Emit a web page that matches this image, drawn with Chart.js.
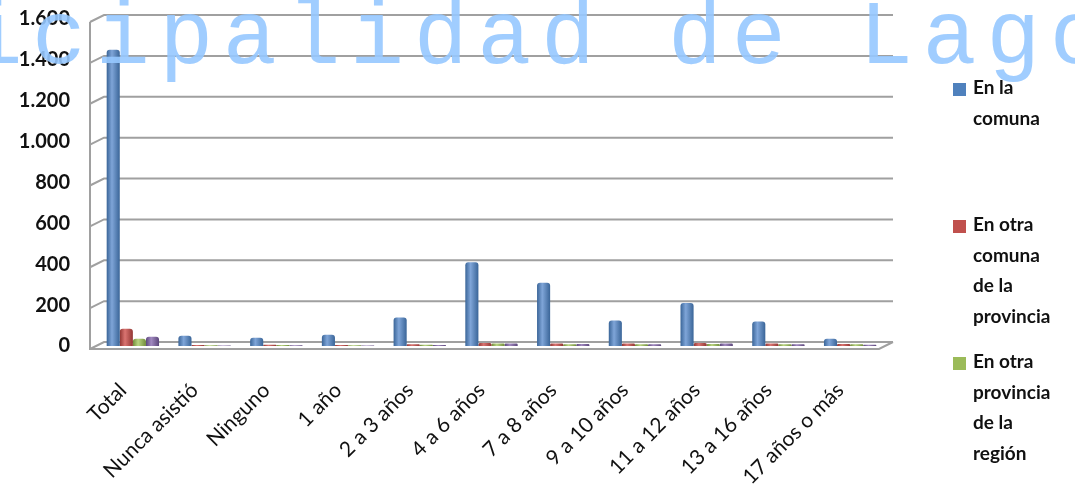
<!DOCTYPE html>
<html>
<head>
<meta charset="utf-8">
<script src="https://cdn.jsdelivr.net/npm/chart.js@4/dist/chart.umd.min.js"></script>
<style>
  html, body { margin: 0; padding: 0; background: #fff; }
  #wrap { width: 1075px; height: 498px; }
</style>
</head>
<body>
<div id="wrap"><canvas id="chart" width="1075" height="498"></canvas></div>
<script>
const categories = ['Total', 'Nunca asistió', 'Ninguno', '1 año', '2 a 3 años', '4 a 6 años',
  '7 a 8 años', '9 a 10 años', '11 a 12 años', '13 a 16 años', '17 años o más'];

const enLaComuna      = [1450, 50, 40, 55, 140, 410, 310, 125, 210, 120, 35];
const otraComuna      = [85, 5, 6, 5, 8, 15, 12, 12, 15, 12, 10];
const otraProvincia   = [35, 4, 5, 4, 6, 12, 8, 8, 10, 8, 8];
const otraRegion      = [45, 3, 4, 3, 5, 12, 10, 8, 12, 9, 6];

const seriesNames = ['En la comuna', 'En otra comuna de la provincia', 'En otra provincia de la región', 'En otra región'];
const legendLines = [['En la', 'comuna'], ['En otra', 'comuna', 'de la', 'provincia'],
  ['En otra', 'provincia', 'de la', 'región'], ['En otra', 'región']];

const yTicks = [0, 200, 400, 600, 800, 1000, 1200, 1400, 1600];
const watermark = 'nicipalidad de Lago';

const palette = [
  { base: '#4F81BD', light: '#7FA5D8', dark: '#3A6598' },
  { base: '#C0504D', light: '#DA7471', dark: '#923633' },
  { base: '#9BBB59', light: '#B9D481', dark: '#728D3B' },
  { base: '#8064A2', light: '#A189C0', dark: '#5B467A' }
];

const CAT_PCT = 0.73;

// cylinder look: horizontal gradient across each bar
const cylinder = (i) => (ctx) => {
  const chart = ctx.chart;
  const xs = chart.scales.x;
  if (ctx.type !== 'data' || !xs || !chart.chartArea) return palette[i].base;
  const cw = (xs.right - xs.left) / categories.length;
  const bw = cw * CAT_PCT / 4;
  const cx = xs.getPixelForValue(ctx.dataIndex) + (i - 1.5) * bw;
  const g = chart.ctx.createLinearGradient(cx - bw / 2, 0, cx + bw / 2, 0);
  g.addColorStop(0, palette[i].dark);
  g.addColorStop(0.4, palette[i].light);
  g.addColorStop(1, palette[i].dark);
  return g;
};

const fmt = (v) => String(v).replace(/\B(?=(\d{3})+(?!\d))/g, '.');

// back wall, side wall and floor of the 3d frame
const frame3d = {
  id: 'frame3d',
  beforeDatasetsDraw(chart) {
    const { ctx, chartArea: a, scales: { y } } = chart;
    const bx = 7, by = -4, fx = -7, fy = 3;
    ctx.save();
    ctx.strokeStyle = '#A0A0A0';
    ctx.lineWidth = 2;
    ctx.beginPath();
    yTicks.forEach(v => {
      const py = y.getPixelForValue(v);
      ctx.moveTo(a.left + fx, py + fy);
      ctx.lineTo(a.left + bx, py + by);
      ctx.lineTo(a.right + bx, py + by);
    });
    const y0 = y.getPixelForValue(0), yTop = y.getPixelForValue(1600);
    ctx.moveTo(a.left + fx, yTop + fy);
    ctx.lineTo(a.left + fx, y0 + fy);
    ctx.lineTo(a.right + fx, y0 + fy);
    ctx.lineTo(a.right + bx, y0 + by);
    ctx.stroke();
    ctx.restore();
  }
};

const sideLegend = {
  id: 'sideLegend',
  afterDraw(chart) {
    const ctx = chart.ctx;
    ctx.save();
    ctx.font = 'bold 19px Lato';
    ctx.textBaseline = 'middle';
    legendLines.forEach((lines, i) => {
      const top = 83 + i * 137;
      if (top + 14 > chart.height) return; // 4th entry falls outside the picture
      ctx.fillStyle = palette[i].base;
      ctx.fillRect(953, top, 13, 13);
      ctx.fillStyle = '#111';
      lines.forEach((t, k) => ctx.fillText(t, 973, top + 5 + k * 30.5));
    });
    ctx.restore();
  }
};

const watermarkText = {
  id: 'watermarkText',
  afterDraw(chart) {
    const ctx = chart.ctx;
    ctx.save();
    ctx.font = '90px "Liberation Mono"';
    ctx.letterSpacing = '9.6px';
    ctx.fillStyle = 'rgba(150, 200, 255, 0.9)';
    ctx.textBaseline = 'alphabetic';
    ctx.fillText(watermark, 32 - 2 * 63.6, 63);
    ctx.restore();
  }
};

// keep the scales from reserving extra room above the plot
const noPad = (s) => { s.paddingTop = 0; s.paddingBottom = 0; };

const datasets = [enLaComuna, otraComuna, otraProvincia, otraRegion].map((data, i) => ({
  label: seriesNames[i],
  data,
  backgroundColor: cylinder(i),
  borderWidth: 0,
  borderRadius: { topLeft: 3, topRight: 3 },
  borderSkipped: 'bottom',
  barPercentage: 1,
  categoryPercentage: CAT_PCT
}));

new Chart(document.getElementById('chart'), {
  type: 'bar',
  data: { labels: categories, datasets },
  options: {
    responsive: false,
    animation: false,
    layout: { padding: { top: 19, right: 189, left: 0, bottom: 0 } },
    plugins: {
      legend: { display: false },
      tooltip: { enabled: false }
    },
    scales: {
      x: {
        grid: { display: false, drawTicks: false },
        border: { display: false },
        ticks: {
          color: '#111',
          font: { family: 'Lato', size: 21 },
          maxRotation: 45,
          minRotation: 45,
          autoSkip: false,
          padding: 32,
          labelOffset: -10
        },
        afterFit: (s) => { s.height = 152; noPad(s); }
      },
      y: {
        min: 0,
        max: 1600,
        grid: { display: false, drawTicks: false },
        border: { display: false },
        ticks: {
          stepSize: 200,
          color: '#111',
          font: { family: 'Lato', size: 20, weight: 'bold' },
          padding: 27,
          callback: (v) => fmt(v)
        },
        afterFit: (s) => { s.width = 97; noPad(s); }
      }
    }
  },
  plugins: [frame3d, sideLegend, watermarkText]
});
</script>
</body>
</html>
